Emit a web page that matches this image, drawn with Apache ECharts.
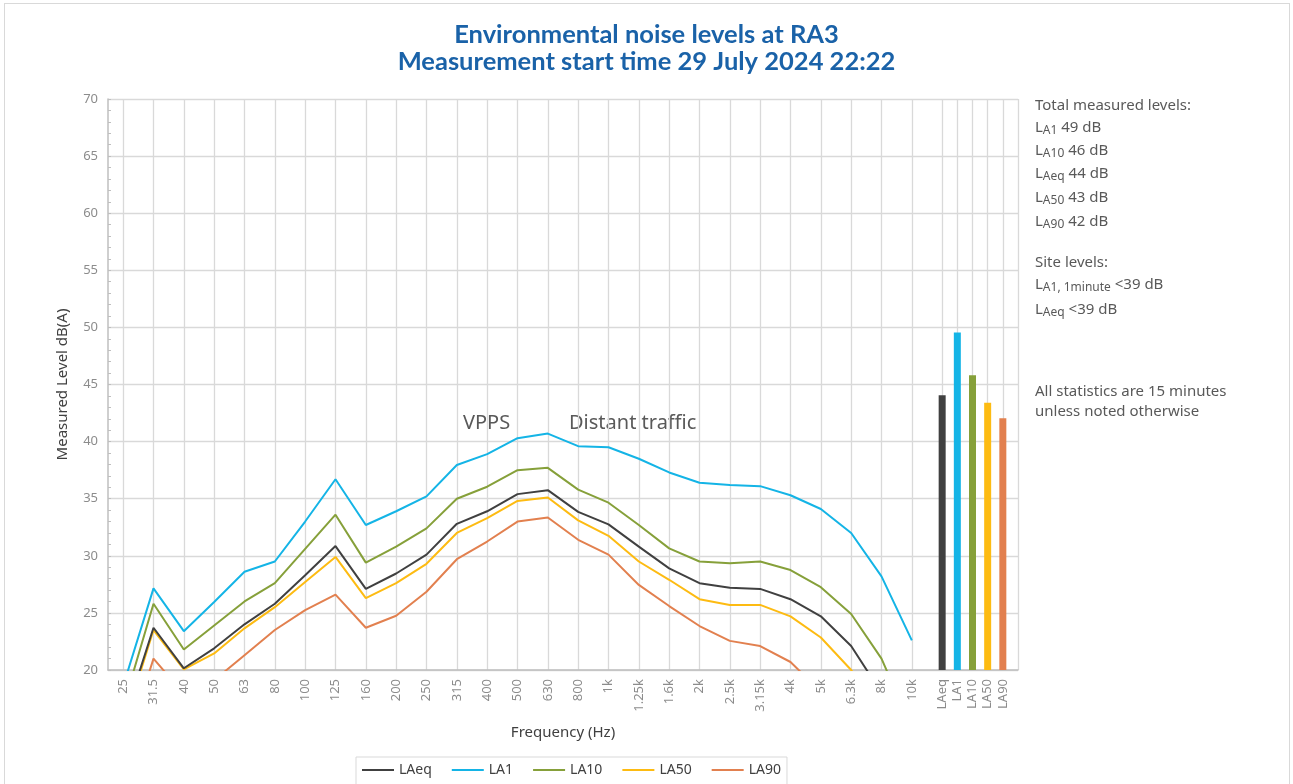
<!DOCTYPE html>
<html>
<head>
  <meta charset="utf-8">
  <title>Environmental noise levels at RA3</title>
  <script src="https://cdn.jsdelivr.net/npm/echarts@6/dist/echarts.min.js"></script>
  <style>
    html, body { margin: 0; padding: 0; background: #fff; }
    #frame { position: absolute; left: 4px; top: 3px; width: 1286px; height: 800px; border: 1px solid #d9d9d9; box-sizing: border-box; }
    #main { position: absolute; left: 0; top: 0; width: 1293px; height: 784px; }
  </style>
</head>
<body>
  <div id="frame"></div>
  <div id="main"></div>
  <script>
  // third-octave band labels and the total levels shown as bars
  var freqLabels = ['25', '31.5', '40', '50', '63', '80', '100', '125', '160', '200', '250', '315', '400', '500', '630',
    '800', '1k', '1.25k', '1.6k', '2k', '2.5k', '3.15k', '4k', '5k', '6.3k', '8k', '10k'];
  var totalLabels = ['LAeq', 'LA1', 'LA10', 'LA50', 'LA90'];
  var totalValues = [44.05, 49.55, 45.8, 43.4, 42.05];

  var laeq = [15.4, 23.7, 20.15, 21.9, 24.0, 25.8, 28.3, 30.85, 27.1, 28.45, 30.1, 32.8, 33.9, 35.4, 35.75,
    33.85, 32.75, 30.8, 28.9, 27.6, 27.2, 27.1, 26.2, 24.7, 22.1, 18.0, 15.0];
  var la1 = [18.6, 27.15, 23.4, 25.95, 28.6, 29.5, 33.0, 36.7, 32.7, 33.9, 35.2, 37.95, 38.9, 40.3, 40.7,
    39.6, 39.5, 38.5, 37.3, 36.4, 36.2, 36.1, 35.3, 34.1, 32.0, 28.2, 22.6];
  var la10 = [16.8, 25.8, 21.8, 23.9, 26.0, 27.6, 30.6, 33.6, 29.4, 30.8, 32.4, 35.0, 36.05, 37.5, 37.7,
    35.8, 34.65, 32.7, 30.65, 29.5, 29.35, 29.5, 28.75, 27.25, 24.9, 21.0, 14.9];
  var la50 = [15.0, 23.5, 20.05, 21.45, 23.65, 25.5, 27.7, 29.9, 26.3, 27.6, 29.3, 32.0, 33.3, 34.8, 35.1,
    33.1, 31.75, 29.5, 27.9, 26.2, 25.7, 25.7, 24.7, 22.85, 20.0, 16.0, 13.0];
  var la90 = [12.6, 21.0, 17.9, 19.1, 21.3, 23.5, 25.25, 26.6, 23.7, 24.75, 26.85, 29.7, 31.25, 33.0, 33.35,
    31.4, 30.1, 27.45, 25.6, 23.85, 22.55, 22.1, 20.7, 18.1, 15.5, 13.0, 10.0];

  var seriesNames = ['LAeq', 'LA1', 'LA10', 'LA50', 'LA90'];
  var seriesData = [laeq, la1, la10, la50, la90];
  var colors = ['#404040', '#14b4e6', '#86a03a', '#fdbb12', '#e2804f'];

  // x axis in half steps: each band takes two slots, the totals take one each
  var slots = [];
  for (var k = 0; k <= 60; k++) slots.push('g' + k);
  freqLabels.forEach(function (f, i) { slots[2 * i + 1] = f; });
  totalLabels.forEach(function (t, j) { slots[55 + j] = t; });
  function isGap(v) { return v.charAt(0) === 'g'; }

  var series = seriesNames.map(function (name, s) {
    return {
      name: name,
      type: 'line',
      symbol: 'none',
      data: seriesData[s].map(function (v, i) { return [2 * i + 1, v]; }),
      lineStyle: { width: 2, color: colors[s] },
      itemStyle: { color: colors[s] },
      z: 10 - s
    };
  });
  series.push({
    name: 'Totals',
    type: 'bar',
    barWidth: 7,
    data: totalValues.map(function (v, j) {
      return { value: [55 + j, v], itemStyle: { color: colors[j] } };
    })
  });

  var subStyle = { fontFamily: 'Noto Sans', fontSize: 12, color: '#595959', padding: [6, 0, 0, 0] };
  var mainStyle = { fontFamily: 'Noto Sans', fontSize: 15, color: '#595959' };
  function panelText(top, text) {
    return {
      type: 'text', left: 1035, top: top,
      style: { text: text, font: '15px "Noto Sans"', fill: '#595959', lineHeight: 20, rich: { s: subStyle, m: mainStyle } }
    };
  }

  var chart = echarts.init(document.getElementById('main'));
  chart.setOption({
    animation: false,
    title: {
      text: 'Environmental noise levels at RA3\nMeasurement start time 29 July 2024 22:22',
      left: 'center',
      top: 16,
      textStyle: { fontFamily: 'Lato', fontWeight: 'bold', fontSize: 25.5, color: '#1a62a8', lineHeight: 27 }
    },
    legend: {
      data: seriesNames,
      left: 356,
      top: 757,
      icon: 'rect',
      itemWidth: 32,
      itemHeight: 2,
      itemGap: 20,
      padding: [6, 6, 8, 6],
      borderColor: '#d9d9d9',
      borderWidth: 1,
      textStyle: { fontFamily: 'Noto Sans', fontSize: 14, color: '#404040' }
    },
    grid: { left: 108, top: 99, right: 275, bottom: 114 },
    xAxis: {
      type: 'category',
      data: slots,
      boundaryGap: false,
      name: 'Frequency (Hz)',
      nameLocation: 'middle',
      nameGap: 55,
      nameTextStyle: { fontFamily: 'Noto Sans', fontSize: 15, color: '#404040' },
      axisLine: { lineStyle: { color: '#bfbfbf', width: 1.5 } },
      axisTick: { show: false },
      axisLabel: {
        rotate: 90,
        margin: 9,
        interval: function (i, v) { return !isGap(v); },
        fontFamily: 'Noto Sans',
        fontSize: 13,
        color: '#8c8c8c'
      },
      splitLine: {
        show: true,
        interval: function (i, v) { return !isGap(v) || i === 60; },
        lineStyle: { color: '#d9d9d9', width: 1.3 }
      }
    },
    yAxis: {
      type: 'value',
      min: 20,
      max: 70,
      interval: 5,
      name: 'Measured Level dB(A)',
      nameLocation: 'middle',
      nameGap: 38,
      nameTextStyle: { fontFamily: 'Noto Sans', fontSize: 15, color: '#404040' },
      axisLine: { show: true, lineStyle: { color: '#bfbfbf', width: 1.5 } },
      axisTick: { show: true, inside: true, length: 3, lineStyle: { color: '#bfbfbf' } },
      minorTick: { show: true, splitNumber: 5, length: 3, lineStyle: { color: '#bfbfbf' } },
      axisLabel: { fontFamily: 'Noto Sans', fontSize: 13, color: '#8c8c8c', margin: 10 },
      splitLine: { lineStyle: { color: '#d9d9d9', width: 1.3 } }
    },
    graphic: [
      { type: 'text', left: 463, top: 413, style: { text: 'VPPS', font: '20px "Noto Sans"', fill: '#595959' } },
      { type: 'text', left: 569, top: 413, style: { text: 'Distant traffic', font: '20px "Noto Sans"', fill: '#595959' } },
      panelText(96, 'Total measured levels:'),
      panelText(118, '{m|L}{s|A1}{m| 49 dB}'),
      panelText(141, '{m|L}{s|A10}{m| 46 dB}'),
      panelText(164, '{m|L}{s|Aeq}{m| 44 dB}'),
      panelText(188, '{m|L}{s|A50}{m| 43 dB}'),
      panelText(212, '{m|L}{s|A90}{m| 42 dB}'),
      panelText(253, 'Site levels:'),
      panelText(275, '{m|L}{s|A1, 1minute}{m| <39 dB}'),
      panelText(300, '{m|L}{s|Aeq}{m| <39 dB}'),
      panelText(382, 'All statistics are 15 minutes\nunless noted otherwise')
    ],
    series: series
  });
  </script>
</body>
</html>
